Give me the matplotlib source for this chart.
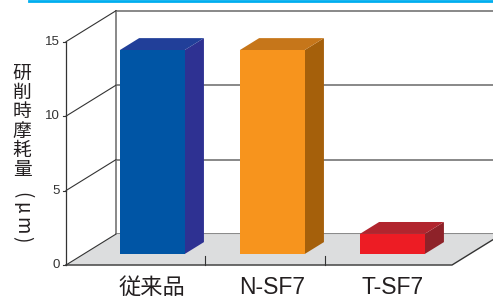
import matplotlib
matplotlib.use("Agg")
import matplotlib.pyplot as plt
from matplotlib.patches import Polygon
from matplotlib.lines import Line2D

plt.rcParams['font.family'] = ['Liberation Sans', 'Noto Sans CJK JP', 'DejaVu Sans']

categories = ['従来品', 'N-SF7', 'T-SF7']
values = [13.7, 13.7, 1.35]
yticks = [0, 5, 10, 15]
ylabel_chars = ['研', '削', '時', '摩', '耗', '量']
ylabel_unit = ['(', 'μ', 'm', ')']

front_colors = ['#0055A5', '#F7941D', '#ED1C24']
side_colors = ['#2E3192', '#A5600B', '#8E2229']
top_colors = ['#213F99', '#C6761A', '#B1252E']

# oblique projection: depth offset in data units
DX, DY = 0.417, 2.08
F0, F1 = 0.355, 0.74       # bar front / back depth fraction
W = 0.54                   # bar width
XL, XR = -0.571, 2.646     # floor front edge
XMIN, XMAX = -1.121, 2.9875
YMIN, YMAX = -2.35, 17.8

fig = plt.figure(figsize=(4.93, 3.0), dpi=100)
ax = fig.add_axes([0, 0, 1, 1])
ax.set_xlim(XMIN, XMAX)
ax.set_ylim(YMIN, YMAX)
ax.axis('off')

grid_c = '#7F7F7F'
dark = '#333333'
cjk = ['Noto Sans CJK JP', 'DejaVu Sans']

# back wall grid lines
for v in yticks:
    ax.plot([XL + DX, XMAX], [v + DY, v + DY], color=grid_c, lw=1.3, zorder=1)
    ax.plot([XL, XL + DX], [v, v + DY], color=dark, lw=0.8, zorder=3)
    ax.plot([XL - 0.025, XL], [v, v], color=dark, lw=0.8, zorder=3)
    ax.text(XL - 0.05, v, str(v), ha='right', va='center', fontsize=9.5, color='#333333')
ax.plot([XL + DX, XL + DX], [DY, yticks[-1] + DY], color=grid_c, lw=1.3, zorder=1)
ax.plot([XL, XL], [0, yticks[-1]], color=dark, lw=0.9, zorder=3)

# floor
floor = Polygon([(XL, 0), (XR, 0), (XR + DX, DY), (XL + DX, DY)],
                closed=True, facecolor='#DCDDDE', edgecolor='none', zorder=2)
ax.add_patch(floor)
ax.plot([XL, XR, XR + DX], [0, 0, DY], color=dark, lw=1.0, zorder=3)

# category ticks
for b in [0.5, 1.5]:
    bx = b + DX * 0.2
    ax.plot([bx, bx], [0, 0.6], color=dark, lw=0.8, zorder=3)

# bars: front faces
xs = [i + DX * F0 for i in range(len(values))]
ax.bar(xs, values, width=W, bottom=DY * F0, color=front_colors, zorder=5, linewidth=0)

# side and top faces
ddx, ddy = DX * (F1 - F0), DY * (F1 - F0)
for x, v, sc, tc in zip(xs, values, side_colors, top_colors):
    x0, x1 = x - W / 2, x + W / 2
    y0, y1 = DY * F0, DY * F0 + v
    ax.add_patch(Polygon([(x1, y0), (x1 + ddx, y0 + ddy), (x1 + ddx, y1 + ddy), (x1, y1)],
                         closed=True, facecolor=sc, edgecolor='none', zorder=4))
    ax.add_patch(Polygon([(x0, y1), (x1, y1), (x1 + ddx, y1 + ddy), (x0 + ddx, y1 + ddy)],
                         closed=True, facecolor=tc, edgecolor='none', zorder=4))

# category labels
for x, lab in zip(xs, categories):
    if lab.isascii():
        ax.text(x, -1.5, lab, ha='center', va='center', fontsize=16.5, color='#231F20')
    else:
        ax.text(x, -1.5, lab, ha='center', va='center', fontsize=16, color='#231F20',
                family=cjk)

# vertical y label
for k, ch in enumerate(ylabel_chars):
    fig.text(22 / 493, 1 - (73 + 19.4 * k) / 300, ch, ha='center', va='center',
             fontsize=13.5, color='#231F20', family=cjk)
for ch, yp in zip(ylabel_unit, [195, 208, 226, 239]):
    fig.text(22 / 493, 1 - yp / 300, ch, ha='center', va='center', rotation=-90,
             fontsize=13.5, color='#231F20', family=cjk)

# top cyan rule
fig.add_artist(Line2D([29 / 493, 1], [1 - 1 / 300, 1 - 1 / 300], color='#00AEEF', lw=2))

fig.savefig('out.png', dpi=100)
